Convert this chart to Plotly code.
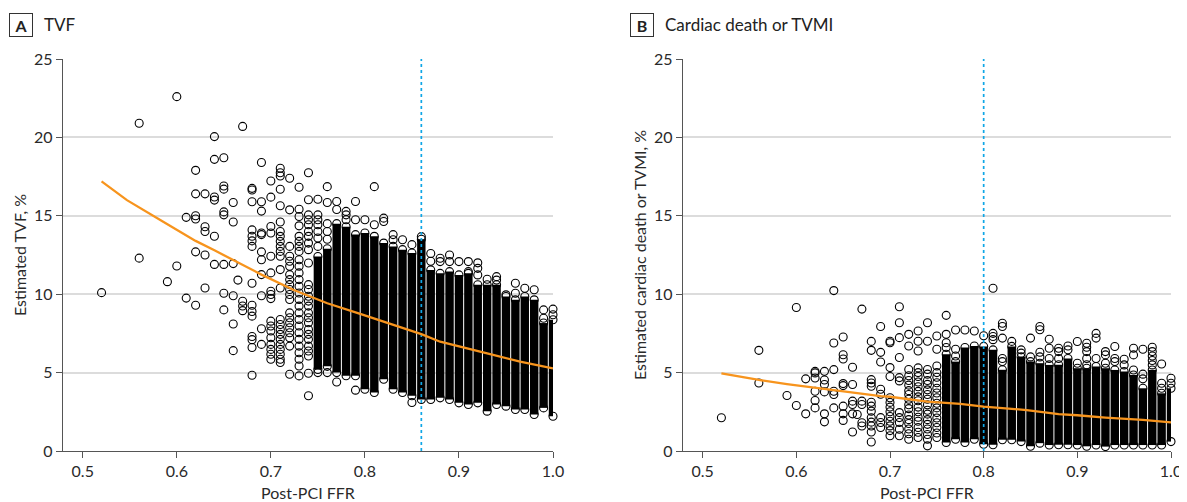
import plotly.graph_objects as go

# ---------------- Panel A: TVF ----------------
tvf_sparse_ffr = [0.52, 0.56, 0.59, 0.60, 0.61, 0.62, 0.63, 0.64, 0.65, 0.66, 0.665, 0.67,
                  0.68, 0.69, 0.70, 0.71, 0.72, 0.73, 0.74]
tvf_sparse_vals = [
    [10.1],
    [12.3, 20.9],
    [10.8],
    [11.8, 22.6],
    [9.75, 14.9],
    [9.3, 12.7, 14.8, 15.0, 16.4, 17.9],
    [10.4, 12.5, 14.0, 14.3, 16.4],
    [11.9, 13.7, 16.0, 16.2, 18.6, 20.05],
    [9.0, 10.06, 11.9, 15.06, 15.25, 16.7, 16.9, 18.7],
    [6.4, 8.1, 9.9, 11.95, 14.6, 15.85],
    [10.9],
    [8.95, 9.25, 9.55, 20.7],
    [4.83, 6.6, 7.1, 7.3, 8.6, 8.9, 9.3, 10.7, 13.05, 13.4, 13.7, 14.1, 15.9, 16.65, 16.75],
    [6.8, 7.8, 9.9, 11.25, 12.2, 12.7, 13.8, 13.9, 15.3, 15.9, 18.4],
    [5.85, 6.17, 6.48, 6.8, 7.22, 7.65, 7.97, 8.28, 9.72, 9.98, 10.19, 11.36, 12.42, 13.9,
     14.32, 16.19, 17.22],
    [5.64, 5.85, 6.17, 6.48, 6.8, 7.12, 7.44, 7.75, 8.07, 8.39, 10.4, 11.57, 12.42, 12.73,
     13.05, 13.37, 13.69, 14.0, 14.6, 15.64, 16.69, 17.54, 17.75, 18.03],
    [4.89, 6.69, 7.22, 7.54, 7.86, 8.18, 8.5, 8.81, 9.66, 9.98, 10.3, 10.61, 10.93, 11.25,
     11.78, 12.1, 12.42, 13.05, 15.38, 17.39],
    [4.79, 5.42, 5.85, 6.27, 6.69, 7.12, 7.54, 7.97, 8.39, 8.81, 9.24, 9.66, 10.08, 10.51,
     10.93, 11.36, 11.78, 12.2, 12.73, 13.05, 13.37, 13.69, 14.36, 14.96, 15.42, 16.82],
    [3.52, 4.96, 6.06, 6.38, 6.69, 7.12, 7.44, 7.75, 8.18, 8.5, 8.81, 9.24, 9.56, 9.87, 10.3,
     10.61, 11.99, 12.84, 13.26, 13.69, 14.0, 14.43, 14.75, 15.06, 16.02, 17.75],
]
tvf_dense_ffr = [0.75, 0.76, 0.77, 0.78, 0.79, 0.80, 0.81, 0.82, 0.83, 0.84, 0.85, 0.86, 0.87,
                 0.88, 0.89, 0.90, 0.91, 0.92, 0.93, 0.94, 0.95, 0.96, 0.97, 0.98, 0.99, 1.00]
tvf_dense_lo = [5.2, 5.4, 5.0, 4.8, 4.8, 3.94, 3.73, 4.58, 3.94, 3.73, 3.52, 3.28, 3.28,
                3.39, 3.28, 3.07, 2.97, 3.07, 2.54, 2.97, 2.86, 2.65, 2.65, 2.33, 2.75, 2.22]
tvf_dense_hi = [12.4, 12.9, 14.5, 14.3, 13.8, 13.9, 13.69, 13.26, 13.05, 12.84, 12.63, 13.5,
                11.55, 11.33, 11.44, 11.23, 11.33, 10.6, 10.6, 10.6, 9.85, 9.64, 9.85, 9.64,
                8.16, 8.37]
tvf_dense_fringe = [
    [5.0, 13.05, 13.58, 14.0, 14.43, 14.75, 15.06, 16.06],
    [5.0, 13.5, 14.0, 14.5, 15.85, 16.86],
    [4.4, 15.4, 15.91],
    [14.75, 15.06, 15.28],
    [3.88, 14.75, 15.91],
    [14.75],
    [14.43, 16.86],
    [14.64, 14.85],
    [13.47, 13.8],
    [13.47],
    [3.09, 13.16],
    [13.67],
    [12.1, 12.6],
    [12.08, 12.29],
    [12.08, 12.5],
    [12.08],
    [11.44, 12.08],
    [11.23, 11.65, 12.0],
    [10.95],
    [10.9, 11.12],
    [9.96],
    [10.06, 10.7],
    [10.38],
    [10.28],
    [8.47, 9.0],
    [8.69, 9.05],
]
tvf_fit_ffr = [0.52, 0.547, 0.586, 0.62, 0.64, 0.69, 0.725, 0.76, 0.795, 0.83, 0.86, 0.88,
               0.895, 0.93, 0.965, 1.0]
tvf_fit_val = [17.2, 16.0, 14.6, 13.4, 12.8, 11.25, 10.25, 9.42, 8.74, 8.05, 7.45, 6.97,
               6.76, 6.23, 5.7, 5.27]
tvf_cutoff = 0.86

# ---------------- Panel B: Cardiac death or TVMI ----------------
cd_sparse_ffr = [0.52, 0.56, 0.59, 0.60, 0.61, 0.62, 0.63, 0.64, 0.65, 0.66, 0.665, 0.67,
                 0.68, 0.69, 0.70, 0.71, 0.72, 0.73, 0.74, 0.75]
cd_sparse_vals = [
    [2.12],
    [4.34, 6.42],
    [3.54],
    [2.9, 9.15],
    [2.37, 4.6],
    [2.75, 3.22, 3.81, 4.66, 4.98, 5.08],
    [1.86, 2.37, 3.77, 4.24, 4.53, 5.08],
    [2.75, 3.6, 3.81, 5.19, 6.89, 10.23],
    [1.95, 2.37, 2.86, 4.17, 4.3, 5.87, 6.14, 7.27],
    [1.21, 2.37, 2.97, 3.18, 4.24, 5.34],
    [2.33],
    [1.59, 1.8, 2.97, 3.18, 9.05],
    [0.57, 1.21, 1.59, 1.84, 2.12, 2.54, 2.86, 3.11, 4.13, 4.34, 4.55, 6.42, 6.99],
    [1.5, 1.82, 2.13, 3.62, 3.94, 5.68, 6.29, 7.94],
    [0.97, 1.3, 1.6, 1.9, 2.2, 2.5, 2.8, 3.1, 3.4, 4.75, 5.32, 6.9, 7.0],
    [0.97, 1.39, 1.82, 2.13, 2.45, 4.47, 4.68, 5.96, 7.23, 8.18, 9.2],
    [0.75, 1.1, 1.4, 1.75, 2.0, 2.3, 2.7, 2.95, 3.3, 3.6, 3.85, 4.2, 4.5, 4.8, 5.2, 6.7, 7.44],
    [0.86, 1.2, 1.5, 1.9, 2.15, 2.5, 2.8, 3.2, 3.45, 3.8, 4.1, 4.4, 4.75, 5.0, 5.3, 6.38, 7.0,
     7.65],
    [0.33, 0.75, 1.05, 1.4, 1.7, 2.0, 2.35, 2.6, 2.95, 3.3, 3.6, 3.9, 4.25, 4.5, 4.9, 5.2, 7.0,
     8.18],
    [0.86, 1.15, 1.5, 1.8, 2.1, 2.45, 2.75, 3.05, 3.4, 3.7, 4.0, 4.35, 4.7, 5.0, 5.42, 6.49,
     7.33],
]
cd_dense_ffr = [0.76, 0.77, 0.78, 0.79, 0.80, 0.81, 0.82, 0.83, 0.84,
                0.85, 0.86, 0.87, 0.88, 0.89, 0.90, 0.91, 0.92, 0.93, 0.94, 0.95, 0.96, 0.97,
                0.98, 0.99, 1.00]
cd_dense_lo = [0.54, 0.75, 0.54, 0.75, 0.43, 0.4, 0.72, 0.72, 0.6,
               0.3, 0.5, 0.38, 0.4, 0.4, 0.38, 0.3, 0.38, 0.28, 0.38, 0.38, 0.38, 0.38, 0.38,
               0.38, 0.6]
cd_dense_hi = [6.17, 5.7, 6.6, 6.7, 6.67, 6.45, 5.18, 6.67, 6.0, 5.7,
               5.6, 5.49, 5.5, 5.9, 5.28, 5.28, 5.39, 5.28, 5.17, 5.07, 4.85, 4.0, 5.17, 3.68,
               4.0]
cd_dense_fringe = [
    [6.6, 6.9, 7.44, 8.65],
    [6.06, 6.49, 7.72],
    [7.72],
    [7.65],
    [7.35],
    [7.1, 7.3, 7.5, 10.38],
    [5.7, 5.9, 7.2, 7.94, 8.15],
    [6.99],
    [6.24, 6.45],
    [6.0, 7.2],
    [6.0, 6.3, 7.73, 7.94],
    [5.9, 6.55, 7.13],
    [5.9, 6.34, 6.55],
    [6.45, 6.7],
    [5.6, 6.98],
    [5.5, 5.9, 6.34, 6.62, 6.87],
    [5.9, 7.2, 7.5],
    [5.6, 6.13, 6.34],
    [5.7, 5.9, 6.66],
    [5.49, 5.85],
    [5.17, 6.13, 6.55],
    [4.6, 4.9, 6.49],
    [5.49, 5.77, 6.06, 6.34, 6.62],
    [4.0, 4.32, 5.55],
    [4.32, 4.64],
]
cd_fit_ffr = [0.52, 0.56, 0.59, 0.63, 0.66, 0.69, 0.70, 0.74, 0.775, 0.80, 0.846, 0.86, 0.88,
              0.90, 0.93, 0.97, 1.0]
cd_fit_val = [4.95, 4.53, 4.27, 3.95, 3.72, 3.5, 3.46, 3.15, 3.0, 2.83, 2.61, 2.51, 2.35,
              2.28, 2.13, 1.98, 1.83]
cd_cutoff = 0.80

x_ticks = [0.5, 0.6, 0.7, 0.8, 0.9, 1.0]
x_ticktext = ["0.5", "0.6", "0.7", "0.8", "0.9", "1.0"]
y_ticks = [0, 5, 10, 15, 20, 25]

FONT = "Lato, Roboto, Liberation Sans, sans-serif"
TXT = "#2a2a2a"
ORANGE = "#F7941D"
BLUE = "#0FA6E6"

fig = go.Figure()


def add_panel(xa, ya, sp_ffr, sp_vals, d_ffr, d_lo, d_hi, d_fr, fit_x, fit_y, cutoff):
    cx, cy = [], []
    for f, lo, hi in zip(d_ffr, d_lo, d_hi):
        cx += [f, f, None]
        cy += [lo, hi, None]
    fig.add_trace(go.Scatter(x=cx, y=cy, mode="lines", xaxis=xa, yaxis=ya,
                             line=dict(color="black", width=8.4), hoverinfo="skip",
                             showlegend=False))
    px, py = [], []
    for f, vals in zip(sp_ffr, sp_vals):
        for v in vals:
            px.append(f)
            py.append(v)
    for f, lo, hi, vals in zip(d_ffr, d_lo, d_hi, d_fr):
        for v in [lo, hi] + list(vals):
            px.append(f)
            py.append(v)
    fig.add_trace(go.Scatter(x=px, y=py, mode="markers", xaxis=xa, yaxis=ya,
                             marker=dict(symbol="circle-open", size=8, color="black",
                                         line=dict(width=1.1, color="black")),
                             cliponaxis=False, showlegend=False))
    fig.add_trace(go.Scatter(x=[cutoff, cutoff], y=[0, 25], mode="lines", xaxis=xa, yaxis=ya,
                             line=dict(color=BLUE, width=1.7, dash="dot"),
                             showlegend=False, hoverinfo="skip"))
    fig.add_trace(go.Scatter(x=fit_x, y=fit_y, mode="lines", xaxis=xa, yaxis=ya,
                             line=dict(color=ORANGE, width=2.3),
                             showlegend=False))


add_panel("x", "y", tvf_sparse_ffr, tvf_sparse_vals, tvf_dense_ffr, tvf_dense_lo,
          tvf_dense_hi, tvf_dense_fringe, tvf_fit_ffr, tvf_fit_val, tvf_cutoff)
add_panel("x2", "y2", cd_sparse_ffr, cd_sparse_vals, cd_dense_ffr, cd_dense_lo,
          cd_dense_hi, cd_dense_fringe, cd_fit_ffr, cd_fit_val, cd_cutoff)

# the page body adds an 8 px offset; figure coordinates are page coordinates minus 8
W, H = 1179, 494
OFF = 8
top, bot = 59 - OFF, 451 - OFF
y_dom = [(H - bot) / H, (H - top) / H]

xcommon = dict(range=[0.479, 1.0], tickvals=x_ticks, ticktext=x_ticktext, showgrid=False,
               zeroline=False, showline=True, linecolor="#555555", linewidth=1.3,
               ticks="outside", ticklen=6, tickcolor="#555555", tickwidth=1.2,
               tickfont=dict(family=FONT, size=16, color=TXT),
               automargin=False, fixedrange=True)
ycommon = dict(range=[0, 25], tickvals=y_ticks, showgrid=True, gridcolor="#dcdcdc",
               gridwidth=1.5, zeroline=False, showline=True, linecolor="#555555",
               linewidth=1.3, ticks="outside", ticklen=6, tickcolor="#555555", tickwidth=1.2,
               tickfont=dict(family=FONT, size=16, color=TXT), automargin=False,
               fixedrange=True)

fig.update_layout(
    width=W, height=H,
    margin=dict(l=0, r=0, t=0, b=0),
    paper_bgcolor="white", plot_bgcolor="white",
    xaxis=dict(domain=[(63 - OFF) / W, (553 - OFF) / W], anchor="y", **xcommon),
    xaxis2=dict(domain=[(683 - OFF) / W, (1171 - OFF) / W], anchor="y2", **xcommon),
    yaxis=dict(domain=y_dom, anchor="x", **ycommon),
    yaxis2=dict(domain=y_dom, anchor="x2", **ycommon),
    showlegend=False,
)

# axis titles
for cx in [(63 + 553) / 2, (683 + 1171) / 2]:
    fig.add_annotation(xref="paper", yref="paper", x=(cx - OFF) / W, y=(H - (492 - OFF)) / H,
                       text="Post-PCI FFR", showarrow=False, xanchor="center",
                       yanchor="middle", font=dict(family=FONT, size=16, color=TXT))
for cx, t in [(19, "Estimated TVF, %"), (639, "Estimated cardiac death or TVMI, %")]:
    fig.add_annotation(xref="paper", yref="paper", x=(cx - OFF) / W, y=(H - (255 - OFF)) / H,
                       text=t, showarrow=False, textangle=-90, xanchor="center",
                       yanchor="middle", font=dict(family=FONT, size=16, color=TXT))

# panel headers
for cx, tx, label, title in [(21, 42, "A", "TVF"), (642, 663, "B", "Cardiac death or TVMI")]:
    fig.add_annotation(xref="paper", yref="paper", x=(cx - OFF) / W, y=(H - (24.5 - OFF)) / H,
                       text="<b>%s</b>" % label, showarrow=False, xanchor="center",
                       yanchor="middle", width=20, height=20, borderpad=1,
                       bordercolor="#333333", borderwidth=1,
                       font=dict(family=FONT, size=16, color="#222222"))
    fig.add_annotation(xref="paper", yref="paper", x=(tx - OFF) / W, y=(H - (24.5 - OFF)) / H,
                       text=title, showarrow=False, xanchor="left", yanchor="middle",
                       font=dict(family=FONT, size=17, color="#222222"))

fig.write_html("out.html")
